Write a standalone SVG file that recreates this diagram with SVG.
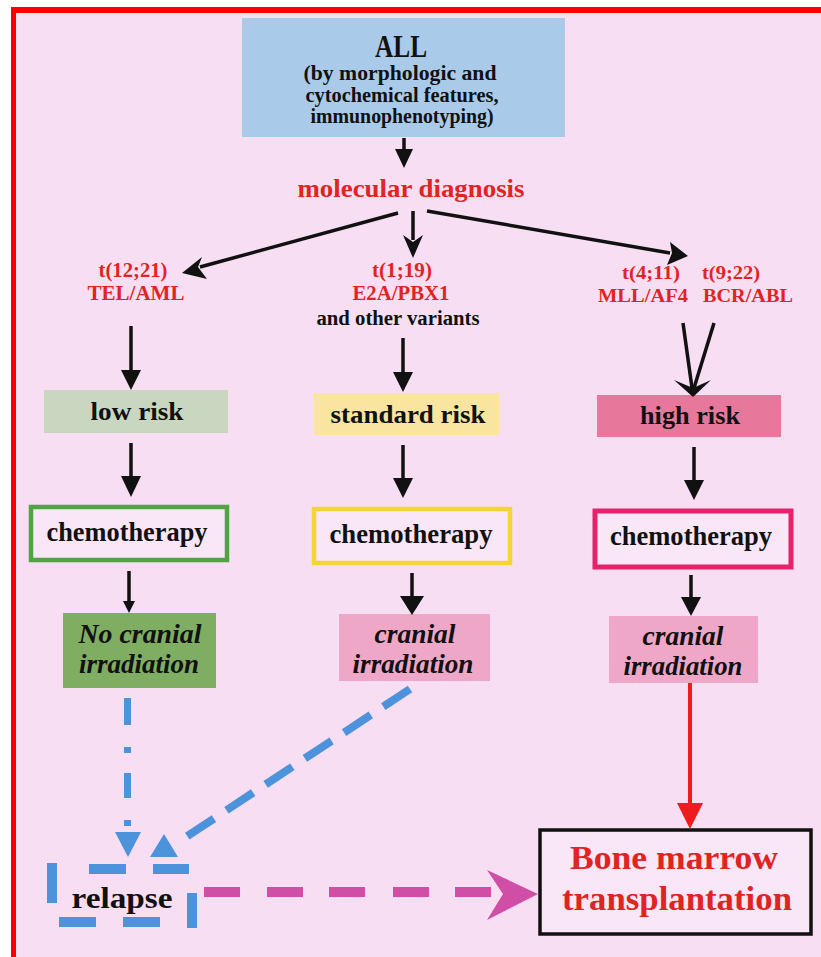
<svg xmlns="http://www.w3.org/2000/svg" width="821" height="957" viewBox="0 0 821 957">
<style>
.t{font-family:"Liberation Serif","Times New Roman",serif;font-weight:bold;text-anchor:middle}
.blk{fill:#111}
.red{fill:#e02424}
.it{font-style:italic}
.ar{stroke:#111;stroke-width:3.5;fill:none}
.ah{fill:#111}
.blue{fill:#4d93dc}
.pink{fill:#d04ea6}
</style>
<rect x="0" y="0" width="821" height="957" fill="#ffffff"/>
<rect x="16" y="13" width="805" height="944" fill="#f7def3"/>
<rect x="11" y="7" width="810" height="6" fill="#ff0000"/>
<rect x="11" y="7" width="5" height="950" fill="#ff0000"/>

<g id="node-all">
<rect x="242" y="18" width="323" height="119" fill="#a9cbe9"/>
<text class="t blk" x="401" y="57" font-size="31" textLength="52" lengthAdjust="spacingAndGlyphs">ALL</text>
<text class="t blk" x="400" y="80" font-size="20" textLength="193" lengthAdjust="spacingAndGlyphs">(by morphologic and</text>
<text class="t blk" x="402" y="102" font-size="20" textLength="193" lengthAdjust="spacingAndGlyphs">cytochemical features,</text>
<text class="t blk" x="402" y="123" font-size="20" textLength="183" lengthAdjust="spacingAndGlyphs">immunophenotyping)</text>
</g>
<g id="node-molecular">
<text class="t red" x="411" y="197" font-size="26" textLength="227" lengthAdjust="spacingAndGlyphs">molecular diagnosis</text>
</g>
<g id="node-t1221">
<text class="t red" x="133" y="277" font-size="20" textLength="69" lengthAdjust="spacingAndGlyphs">t(12;21)</text>
<text class="t red" x="136" y="300" font-size="20" textLength="97" lengthAdjust="spacingAndGlyphs">TEL/AML</text>
</g>
<g id="node-t119">
<text class="t red" x="402" y="277" font-size="20" textLength="60" lengthAdjust="spacingAndGlyphs">t(1;19)</text>
<text class="t red" x="401" y="300" font-size="20" textLength="97" lengthAdjust="spacingAndGlyphs">E2A/PBX1</text>
<text class="t blk" x="398" y="325" font-size="20" textLength="163" lengthAdjust="spacingAndGlyphs">and other variants</text>
</g>
<g id="node-t411">
<text class="t red" x="651" y="279" font-size="19" textLength="58" lengthAdjust="spacingAndGlyphs">t(4;11)</text>
<text class="t red" x="643" y="302" font-size="19" textLength="90" lengthAdjust="spacingAndGlyphs">MLL/AF4</text>
</g>
<g id="node-t922">
<text class="t red" x="731" y="279" font-size="19" textLength="58" lengthAdjust="spacingAndGlyphs">t(9;22)</text>
<text class="t red" x="748" y="302" font-size="19" textLength="90" lengthAdjust="spacingAndGlyphs">BCR/ABL</text>
</g>

<g id="node-low-risk">
<rect x="44" y="390" width="184" height="43" fill="#c9d7c1"/>
<text class="t blk" x="137" y="420" font-size="26" textLength="93" lengthAdjust="spacingAndGlyphs">low risk</text>
</g>
<g id="node-standard-risk">
<rect x="314" y="393" width="185" height="42" fill="#f9e4a0"/>
<text class="t blk" x="408" y="423" font-size="26" textLength="155" lengthAdjust="spacingAndGlyphs">standard risk</text>
</g>
<g id="node-high-risk">
<rect x="597" y="395" width="184" height="42" fill="#e8779c"/>
<text class="t blk" x="690" y="424" font-size="26" textLength="100" lengthAdjust="spacingAndGlyphs">high risk</text>
</g>

<g id="node-chemo-left">
<rect x="31" y="507" width="196" height="53" fill="#f9e6f6" stroke="#4fa544" stroke-width="4.5"/>
<text class="t blk" x="127" y="541" font-size="27" textLength="161" lengthAdjust="spacingAndGlyphs">chemotherapy</text>
</g>
<g id="node-chemo-mid">
<rect x="314" y="509" width="196" height="54" fill="#f9e6f6" stroke="#f4d535" stroke-width="4.5"/>
<text class="t blk" x="411" y="543" font-size="27" textLength="163" lengthAdjust="spacingAndGlyphs">chemotherapy</text>
</g>
<g id="node-chemo-right">
<rect x="595" y="511" width="196" height="56" fill="#f9e6f6" stroke="#e3246a" stroke-width="5"/>
<text class="t blk" x="691" y="545" font-size="27" textLength="162" lengthAdjust="spacingAndGlyphs">chemotherapy</text>
</g>

<g id="node-no-cranial">
<rect x="63" y="613" width="153" height="75" fill="#7fad62"/>
<text class="t blk it" x="140" y="643" font-size="27" textLength="123" lengthAdjust="spacingAndGlyphs">No cranial</text>
<text class="t blk it" x="139" y="673" font-size="27" textLength="120" lengthAdjust="spacingAndGlyphs">irradiation</text>
</g>
<g id="node-cranial-mid">
<rect x="339" y="614" width="151" height="67" fill="#efa7c7"/>
<text class="t blk it" x="415" y="643" font-size="27" textLength="81" lengthAdjust="spacingAndGlyphs">cranial</text>
<text class="t blk it" x="413" y="673" font-size="27" textLength="121" lengthAdjust="spacingAndGlyphs">irradiation</text>
</g>
<g id="node-cranial-right">
<rect x="609" y="616" width="149" height="67" fill="#efa7c7"/>
<text class="t blk it" x="683" y="645" font-size="27" textLength="81" lengthAdjust="spacingAndGlyphs">cranial</text>
<text class="t blk it" x="683" y="675" font-size="27" textLength="119" lengthAdjust="spacingAndGlyphs">irradiation</text>
</g>

<g id="node-relapse">
<rect class="blue" x="47" y="863" width="10" height="40"/>
<rect class="blue" x="89" y="864" width="37" height="10"/>
<rect class="blue" x="153" y="864" width="36" height="10"/>
<rect class="blue" x="187" y="893" width="10" height="35"/>
<rect class="blue" x="59" y="917" width="37" height="10"/>
<rect class="blue" x="123" y="917" width="37" height="10"/>
<text class="t blk" x="122" y="908" font-size="30" textLength="101" lengthAdjust="spacingAndGlyphs">relapse</text>
</g>

<g id="node-bmt">
<rect x="540" y="830" width="271" height="104" fill="#f9e6f6" stroke="#111" stroke-width="3.5"/>
<text class="t red" x="674" y="869" font-size="33" textLength="208" lengthAdjust="spacingAndGlyphs">Bone marrow</text>
<text class="t red" x="677" y="910" font-size="33" textLength="230" lengthAdjust="spacingAndGlyphs">transplantation</text>
</g>

<g id="connectors">
<line class="ar" x1="404" y1="138" x2="404" y2="152"/>
<polygon class="ah" points="395,149 413,149 404,168"/>

<line class="ar" x1="398" y1="213" x2="200" y2="267" stroke-width="4.5"/>
<polygon class="ah" points="182,273 202,257 198,267 207,279"/>
<line class="ar" x1="413" y1="211" x2="413" y2="240" stroke-width="4.5"/>
<polygon class="ah" points="403,235 413,242 423,235 413,258"/>
<line class="ar" x1="427" y1="211" x2="670" y2="253" stroke-width="4.5"/>
<polygon class="ah" points="688,256 667,265 672,253 670,242"/>

<line class="ar" x1="131" y1="326" x2="131" y2="372"/>
<polygon class="ah" points="121,370 141,370 131,390"/>
<line class="ar" x1="403" y1="338" x2="403" y2="374"/>
<polygon class="ah" points="393,372 413,372 403,392"/>
<line class="ar" x1="683" y1="323" x2="692" y2="388"/>
<line class="ar" x1="714" y1="323" x2="694" y2="388"/>
<polygon class="ah" points="674,380 693,388 711,380 693,397"/>

<line class="ar" x1="131" y1="443" x2="131" y2="478"/>
<polygon class="ah" points="121,476 141,476 131,497"/>
<line class="ar" x1="403" y1="445" x2="403" y2="480"/>
<polygon class="ah" points="393,478 413,478 403,498"/>
<line class="ar" x1="694" y1="447" x2="694" y2="482"/>
<polygon class="ah" points="684,480 704,480 694,500"/>

<line class="ar" x1="129" y1="571" x2="129" y2="603" stroke-width="2"/>
<polygon class="ah" points="123,601 135,601 129,613"/>
<line class="ar" x1="412" y1="573" x2="412" y2="598" stroke-width="4.5"/>
<polygon class="ah" points="400,596 424,596 412,615"/>
<line class="ar" x1="691" y1="575" x2="691" y2="599"/>
<polygon class="ah" points="681,597 701,597 691,616"/>

<rect class="blue" x="124" y="698" width="7" height="27"/>
<rect class="blue" x="124" y="747" width="7" height="6"/>
<rect class="blue" x="124" y="773" width="7" height="25"/>
<rect class="blue" x="124" y="820" width="7" height="6"/>
<polygon class="blue" points="115,832 141,832 128,857"/>

<line x1="410" y1="689" x2="186" y2="837" stroke="#4d93dc" stroke-width="8" stroke-dasharray="32 15"/>
<polygon class="blue" points="150,857 178,857 164,834"/>

<rect class="pink" x="204" y="887" width="36" height="10"/>
<rect class="pink" x="267" y="887" width="36" height="10"/>
<rect class="pink" x="329" y="887" width="36" height="10"/>
<rect class="pink" x="393" y="887" width="36" height="10"/>
<rect class="pink" x="455" y="887" width="36" height="10"/>
<polygon class="pink" points="487,870 538,894 487,920 503,894"/>

<line x1="690" y1="683" x2="690" y2="806" stroke="#ee1c1c" stroke-width="4"/>
<polygon fill="#ee1c1c" points="677,803 703,803 690,829"/>
</g>
</svg>
